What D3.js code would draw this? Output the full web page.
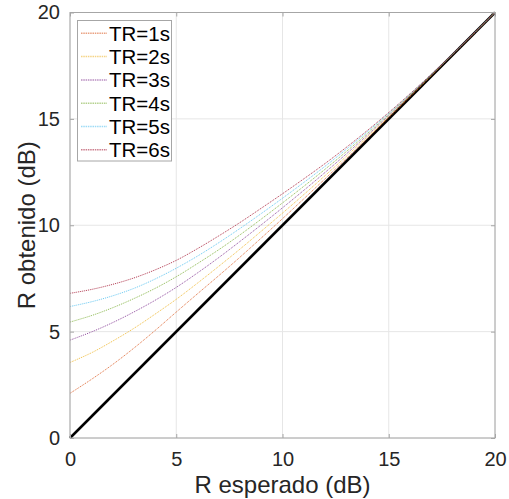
<!DOCTYPE html>
<html>
<head>
<meta charset="utf-8">
<script src="https://cdn.jsdelivr.net/npm/d3@7"></script>
<style>
  body { margin: 0; background: #fff; }
  svg { display: block; font-family: "Liberation Sans", Arial, sans-serif; }
</style>
</head>
<body>
<script>
// R esperado (eje x)
var esperado = [0,1,2,3,4,5,6,7,8,9,10,11,12,13,14,15,16,17,18,19,20];

// R obtenido para cada TR
var tr1 = [2.1,2.75,3.45,4.22,5.05,5.92,6.78,7.63,8.5,9.4,10.31,11.24,12.18,13.13,14.09,15.06,16.04,17.02,18.01,19.0,20];
var tr2 = [3.55,4.0,4.55,5.15,5.82,6.52,7.28,8.07,8.88,9.72,10.57,11.44,12.33,13.24,14.17,15.11,16.07,17.04,18.02,19.01,20];
var tr3 = [4.6,4.98,5.42,5.92,6.47,7.08,7.76,8.48,9.24,10.02,10.82,11.64,12.48,13.35,14.24,15.16,16.1,17.05,18.02,19.01,20];
var tr4 = [5.45,5.75,6.12,6.55,7.03,7.58,8.2,8.85,9.55,10.29,11.05,11.83,12.63,13.46,14.32,15.21,16.13,17.07,18.03,19.01,20];
var tr5 = [6.18,6.4,6.68,7.03,7.47,7.98,8.55,9.18,9.85,10.55,11.27,12.01,12.77,13.57,14.4,15.26,16.16,17.09,18.04,19.02,20];
var tr6 = [6.8,6.98,7.22,7.52,7.9,8.35,8.9,9.5,10.13,10.8,11.48,12.18,12.9,13.66,14.46,15.3,16.18,17.1,18.05,19.02,20];

var nombres = ["TR=1s","TR=2s","TR=3s","TR=4s","TR=5s","TR=6s"];
var colores = ["#D95319","#EDB120","#7E2F8E","#77AC30","#4DBEEE","#A2142F"];
var series = [tr1,tr2,tr3,tr4,tr5,tr6];

var ticks = [0,5,10,15,20];

var width = 509, height = 499;
var m = {left:70, right:14, top:12.5, bottom:61};

var svg = d3.select("body").append("svg")
  .attr("width", width).attr("height", height);

var x = d3.scaleLinear().domain([0,20]).range([m.left, width - m.right]);
var y = d3.scaleLinear().domain([0,20]).range([height - m.bottom, m.top]);

// rejilla
var grid = svg.append("g").attr("stroke", "#e6e6e6").attr("stroke-width", 1);
ticks.forEach(function(t) {
  grid.append("line").attr("x1", x(t)).attr("x2", x(t)).attr("y1", y(0)).attr("y2", y(20));
  grid.append("line").attr("y1", y(t)).attr("y2", y(t)).attr("x1", x(0)).attr("x2", x(20));
});

// linea y = x
svg.append("line")
  .attr("x1", x(0)).attr("y1", y(0)).attr("x2", x(20)).attr("y2", y(20))
  .attr("stroke", "#000").attr("stroke-width", 2.5);

var linea = d3.line()
  .x(function(d, i) { return x(esperado[i]); })
  .y(function(d) { return y(d); })
  .curve(d3.curveCatmullRom.alpha(0.5));

series.forEach(function(s, k) {
  svg.append("path")
    .attr("d", linea(s))
    .attr("fill", "none")
    .attr("stroke", colores[k])
    .attr("stroke-opacity", 0.85)
    .attr("stroke-width", 1)
    .attr("stroke-dasharray", "1,1");
});

// ejes (caja)
var ejes = svg.append("g");
ejes.append("rect")
  .attr("x", x(0)).attr("y", y(20))
  .attr("width", x(20) - x(0)).attr("height", y(0) - y(20))
  .attr("fill", "none").attr("stroke", "#a6a6a6").attr("stroke-width", 1);

var xAxis = d3.axisBottom(x).tickValues(ticks).tickSizeInner(-4).tickSizeOuter(0).tickPadding(14);
var yAxis = d3.axisLeft(y).tickValues(ticks).tickSizeInner(-4).tickSizeOuter(0).tickPadding(10);

svg.append("g").attr("transform", "translate(0," + y(0) + ")").call(xAxis);
svg.append("g").attr("transform", "translate(" + x(0) + ",0)").call(yAxis);
// marcas arriba y a la derecha
svg.append("g").attr("transform", "translate(0," + y(20) + ")")
  .call(d3.axisTop(x).tickValues(ticks).tickSizeInner(-4).tickSizeOuter(0).tickFormat(""));
svg.append("g").attr("transform", "translate(" + x(20) + ",0)")
  .call(d3.axisRight(y).tickValues(ticks).tickSizeInner(-4).tickSizeOuter(0).tickFormat(""));

svg.selectAll(".domain").remove();
svg.selectAll(".tick line").attr("stroke", "#a6a6a6");
svg.selectAll(".tick text")
  .attr("fill", "#262626")
  .attr("font-size", 20)
  .attr("font-family", "Liberation Sans, Arial, sans-serif");

// titulos
svg.append("text")
  .attr("x", (x(0) + x(20)) / 2).attr("y", 493)
  .attr("text-anchor", "middle")
  .attr("font-size", 24).attr("fill", "#262626")
  .text("R esperado (dB)");

svg.append("text")
  .attr("transform", "translate(35," + (y(0) + y(20)) / 2 + ") rotate(-90)")
  .attr("text-anchor", "middle")
  .attr("font-size", 24).attr("fill", "#262626")
  .text("R obtenido (dB)");

// leyenda
var ley = svg.append("g");
ley.append("rect")
  .attr("x", 77.5).attr("y", 20.5).attr("width", 94).attr("height", 140.5)
  .attr("fill", "#fff").attr("stroke", "#a6a6a6").attr("stroke-width", 1);

nombres.forEach(function(n, k) {
  var cy = 33.3 + k * 23.3;
  ley.append("line")
    .attr("x1", 81).attr("x2", 107).attr("y1", cy).attr("y2", cy)
    .attr("stroke", colores[k]).attr("stroke-opacity", 0.55).attr("stroke-width", 1.5)
    .attr("stroke-dasharray", "1.5,0.8");
  ley.append("text")
    .attr("x", 109).attr("y", cy).attr("dy", "0.36em")
    .attr("font-size", 20.5).attr("fill", "#000")
    .text(n);
});
</script>
</body>
</html>
